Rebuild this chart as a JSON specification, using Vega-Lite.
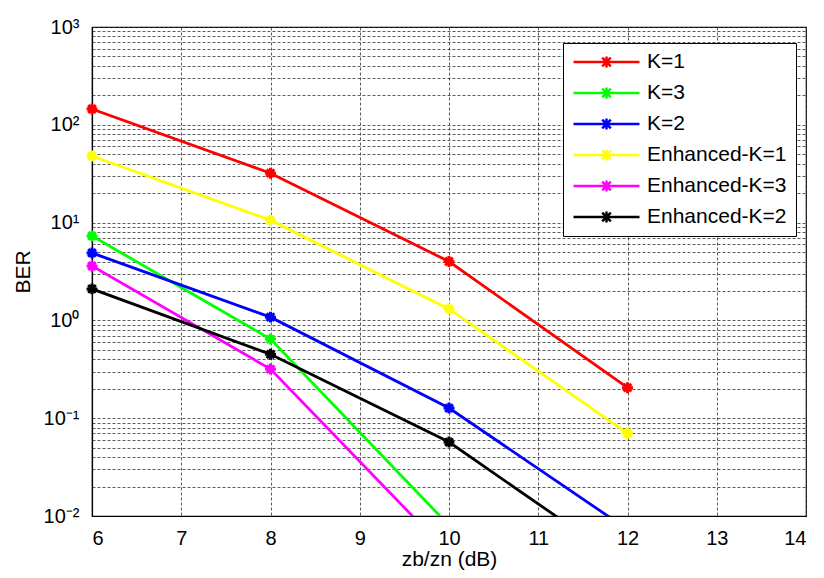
{
  "$schema": "https://vega.github.io/schema/vega-lite/v6.json",
  "autosize": {"type": "none"},
  "width": 714,
  "height": 489,
  "padding": {"left": 92, "top": 27, "right": 18, "bottom": 62},
  "background": "white",
  "config": {
    "font": "Liberation Sans",
    "view": {"stroke": "black", "strokeWidth": 1.2},
    "axis": {
      "domainColor": "black",
      "domainWidth": 1.2,
      "ticks": false,
      "labelFont": "Liberation Sans",
      "labelFontSize": 20,
      "labelColor": "black",
      "titleFont": "Liberation Sans",
      "titleFontSize": 21,
      "titleFontWeight": "normal",
      "titleColor": "black",
      "grid": true,
      "gridColor": "#333333",
      "gridDash": [3, 2],
      "gridWidth": 1,
      "gridOpacity": 0.8
    },
    "legend": {
      "labelFont": "Liberation Sans",
      "labelFontSize": 21,
      "labelColor": "black"
    }
  },
  "data": {
    "values": [
      {"snr": 6, "BER": 145, "series": "K=1"},
      {"snr": 8, "BER": 32, "series": "K=1"},
      {"snr": 10, "BER": 4.0, "series": "K=1"},
      {"snr": 12, "BER": 0.205, "series": "K=1"},
      {"snr": 6, "BER": 7.3, "series": "K=3"},
      {"snr": 8, "BER": 0.645, "series": "K=3"},
      {"snr": 10, "BER": 0.008, "series": "K=3"},
      {"snr": 6, "BER": 4.9, "series": "K=2"},
      {"snr": 8, "BER": 1.08, "series": "K=2"},
      {"snr": 10, "BER": 0.127, "series": "K=2"},
      {"snr": 12, "BER": 0.0073, "series": "K=2"},
      {"snr": 6, "BER": 48, "series": "Enhanced-K=1"},
      {"snr": 8, "BER": 10.6, "series": "Enhanced-K=1"},
      {"snr": 10, "BER": 1.31, "series": "Enhanced-K=1"},
      {"snr": 12, "BER": 0.07, "series": "Enhanced-K=1"},
      {"snr": 6, "BER": 3.6, "series": "Enhanced-K=3"},
      {"snr": 8, "BER": 0.318, "series": "Enhanced-K=3"},
      {"snr": 10, "BER": 0.0041, "series": "Enhanced-K=3"},
      {"snr": 6, "BER": 2.1, "series": "Enhanced-K=2"},
      {"snr": 8, "BER": 0.45, "series": "Enhanced-K=2"},
      {"snr": 10, "BER": 0.057, "series": "Enhanced-K=2"},
      {"snr": 12, "BER": 0.0031, "series": "Enhanced-K=2"}
    ]
  },
  "encoding": {
    "x": {
      "field": "snr",
      "type": "quantitative",
      "scale": {"domain": [6, 14], "nice": false, "zero": false},
      "axis": {
        "title": "zb/zn (dB)",
        "values": [6, 7, 8, 9, 10, 11, 12, 13, 14],
        "labelPadding": 12,
        "titlePadding": 0
      }
    },
    "y": {
      "field": "BER",
      "type": "quantitative",
      "scale": {"type": "log", "domain": [0.01, 1000], "nice": false},
      "axis": {
        "title": "BER",
        "values": [0.01, 0.02, 0.03, 0.04, 0.05, 0.06, 0.07, 0.08, 0.09,
                   0.1, 0.2, 0.3, 0.4, 0.5, 0.6, 0.7, 0.8, 0.9,
                   1, 2, 3, 4, 5, 6, 7, 8, 9,
                   10, 20, 30, 40, 50, 60, 70, 80, 90,
                   100, 200, 300, 400, 500, 600, 700, 800, 900, 1000],
        "labelExpr": "datum.value==1000?'10³':datum.value==100?'10²':datum.value==10?'10¹':datum.value==1?'10⁰':datum.value==0.1?'10⁻¹':datum.value==0.01?'10⁻²':''",
        "labelPadding": 13,
        "titlePadding": 10
      }
    },
    "color": {
      "field": "series",
      "type": "nominal",
      "scale": {
        "domain": ["K=1", "K=3", "K=2", "Enhanced-K=1", "Enhanced-K=3", "Enhanced-K=2"],
        "range": ["#ff0000", "#00ff00", "#0000ff", "#ffff00", "#ff00ff", "#000000"]
      },
      "legend": {
        "title": null,
        "orient": "none",
        "legendX": 471,
        "legendY": 16,
        "padding": 9,
        "strokeColor": "black",
        "fillColor": "white",
        "symbolType": "M-1,0L1,0M0,-0.17L0,0.17M-0.13,-0.13L0.13,0.13M-0.13,0.13L0.13,-0.13",
        "symbolSize": 4356,
        "symbolStrokeWidth": 2.5,
        "symbolFillColor": "transparent",
        "clipHeight": 20,
        "rowPadding": 10,
        "labelOffset": 6
      }
    }
  },
  "layer": [
    {
      "mark": {"type": "line", "strokeWidth": 2.8, "clip": true}
    },
    {
      "transform": [{"filter": "datum.BER >= 0.01"}],
      "mark": {
        "type": "point",
        "shape": "M0,-1L0,1M-1,0L1,0M-0.7,-0.7L0.7,0.7M-0.7,0.7L0.7,-0.7",
        "size": 120,
        "filled": false,
        "strokeWidth": 3,
        "opacity": 1
      }
    }
  ]
}
